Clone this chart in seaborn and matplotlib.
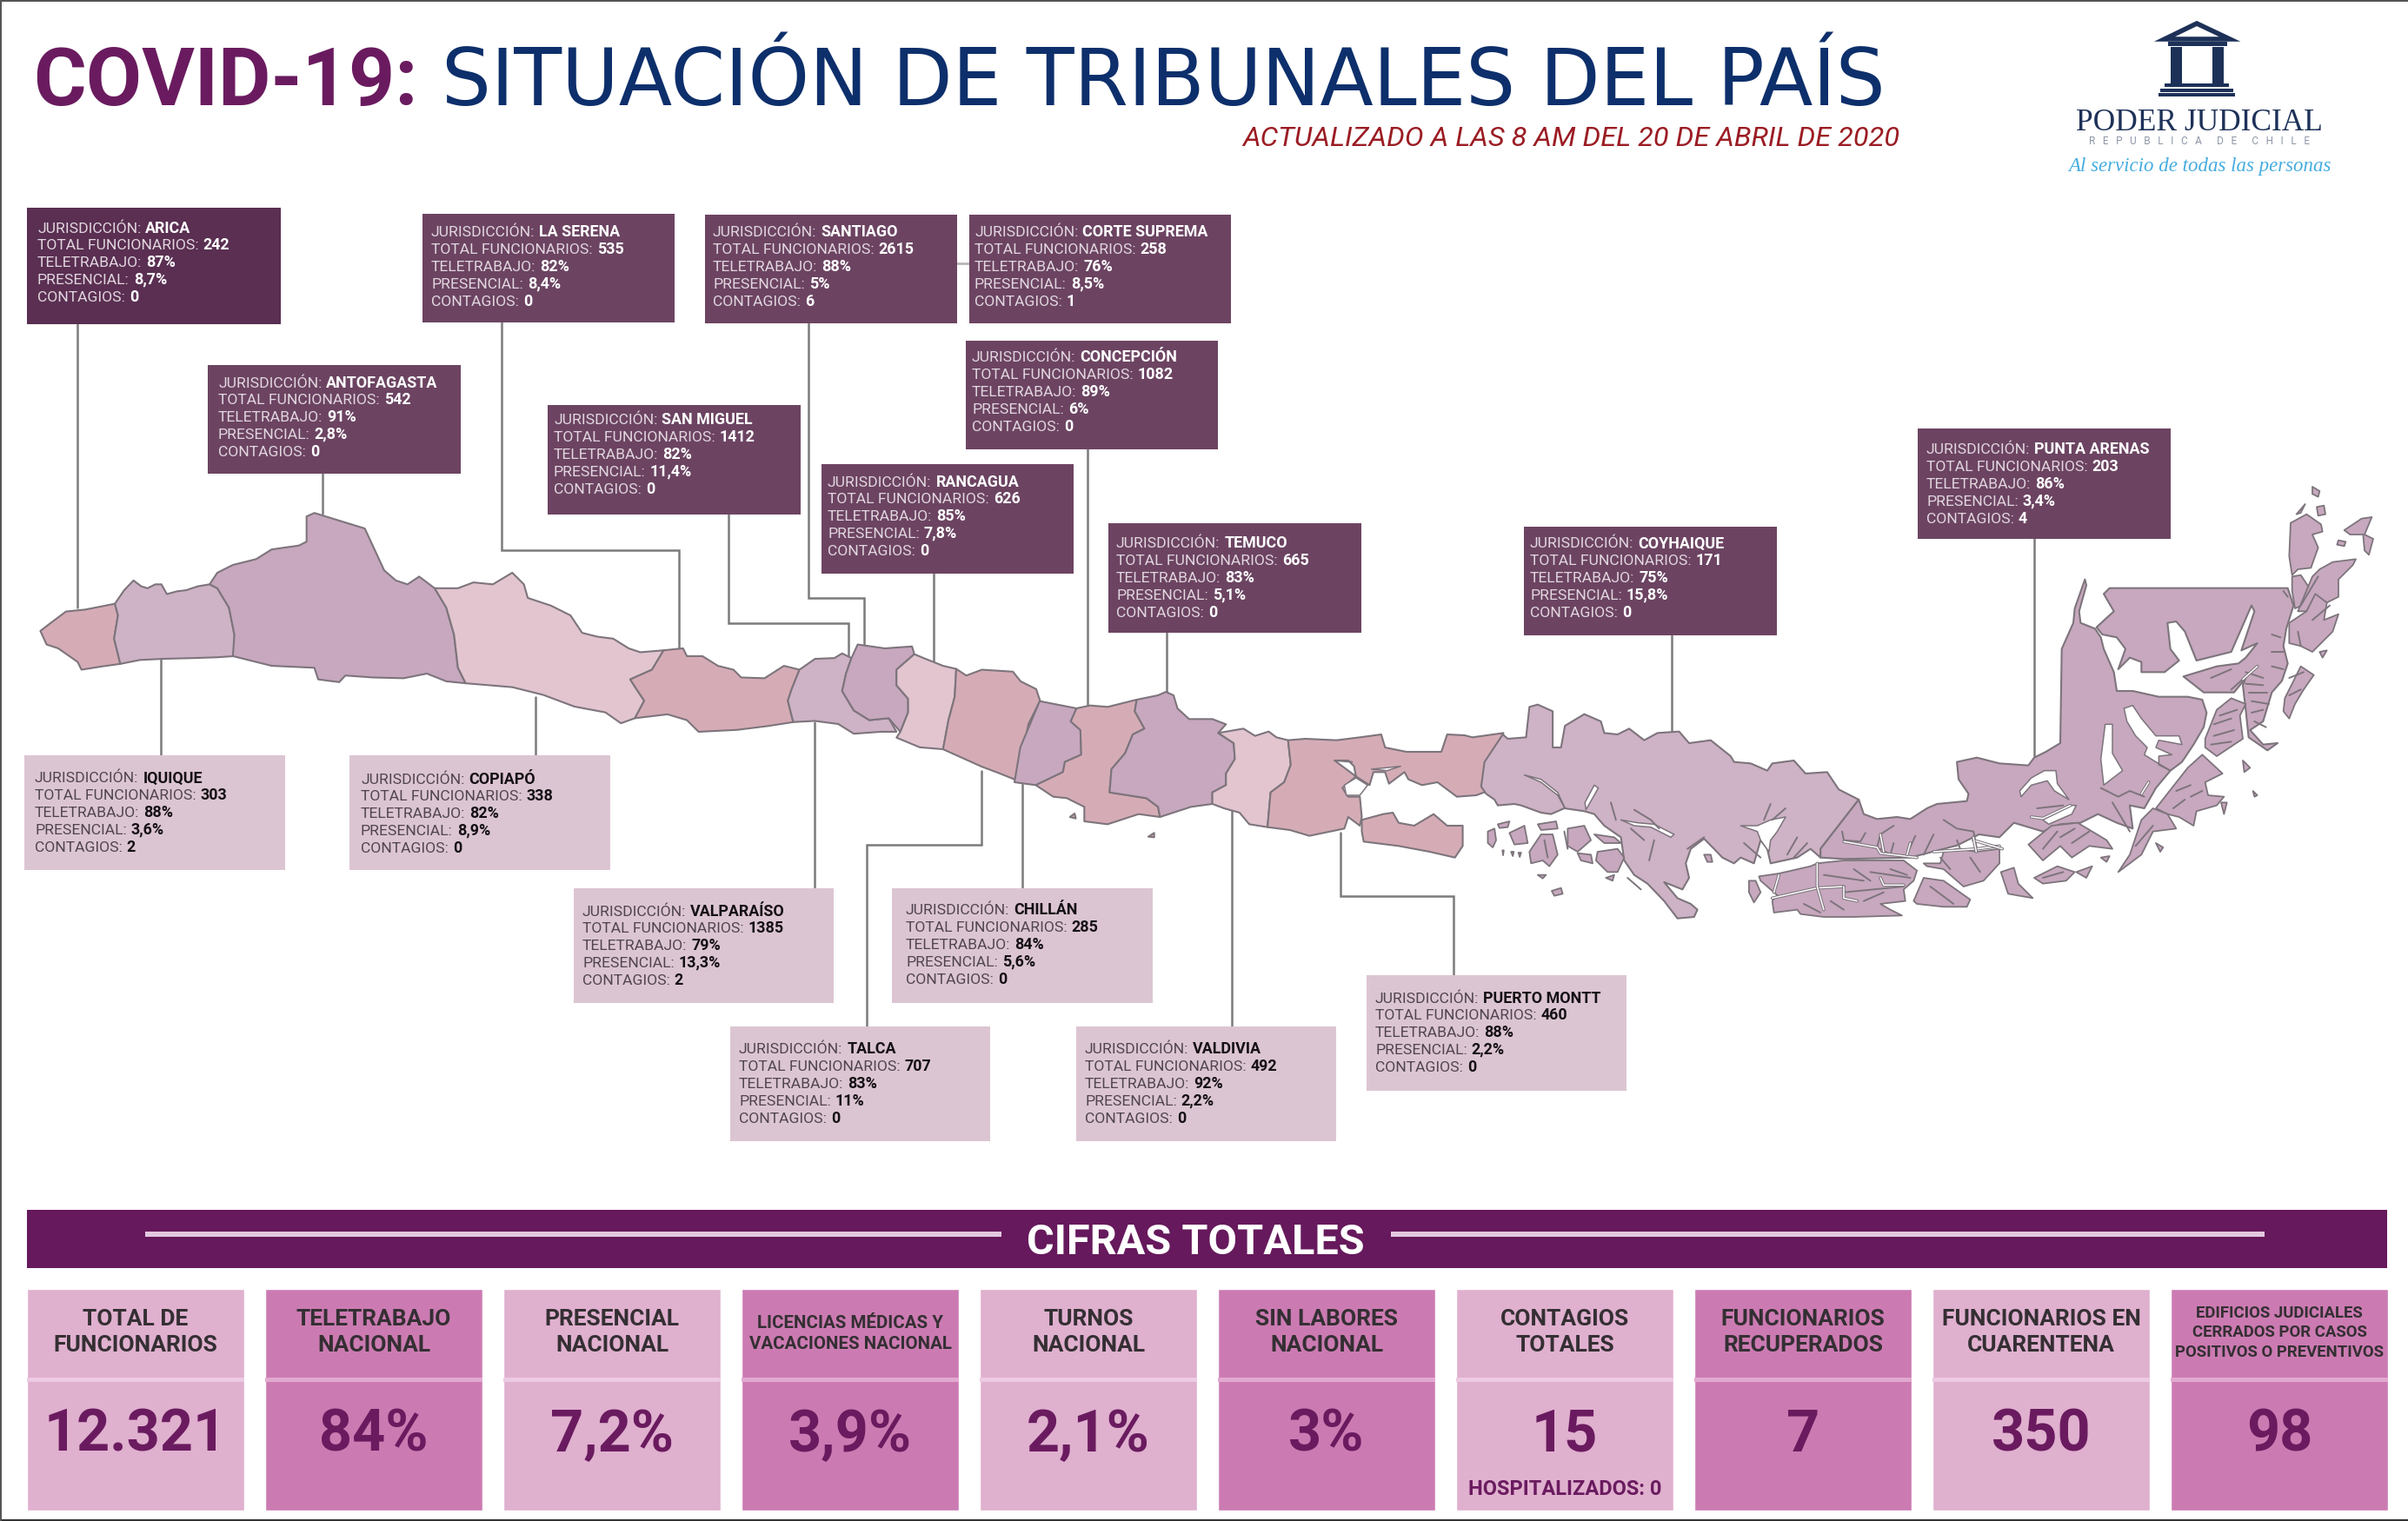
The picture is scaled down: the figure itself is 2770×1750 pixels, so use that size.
import matplotlib
matplotlib.use("Agg")
import matplotlib.pyplot as plt
from matplotlib.patches import Polygon, Rectangle
import seaborn as sns
import pandas as pd

sns.set_theme(style="white")
plt.rcParams['font.family'] = ['Roboto', 'DejaVu Sans']
WIDE = ['Roboto', 'DejaVu Sans']

# ---------------- data ----------------
JURIS = ["ARICA", "LA SERENA", "SANTIAGO", "CORTE SUPREMA", "ANTOFAGASTA", "SAN MIGUEL", "CONCEPCIÓN",
         "RANCAGUA", "TEMUCO", "COYHAIQUE", "PUNTA ARENAS", "IQUIQUE", "COPIAPÓ", "VALPARAÍSO",
         "CHILLÁN", "TALCA", "VALDIVIA", "PUERTO MONTT"]
TOTAL = ["242", "535", "2615", "258", "542", "1412", "1082", "626", "665", "171", "203", "303", "338", "1385",
         "285", "707", "492", "460"]
TELE = ["87%", "82%", "88%", "76%", "91%", "82%", "89%", "85%", "83%", "75%", "86%", "88%", "82%", "79%",
        "84%", "83%", "92%", "88%"]
PRES = ["8,7%", "8,4%", "5%", "8,5%", "2,8%", "11,4%", "6%", "7,8%", "5,1%", "15,8%", "3,4%", "3,6%", "8,9%", "13,3%",
        "5,6%", "11%", "2,2%", "2,2%"]
CONT = ["0", "0", "6", "1", "0", "0", "0", "0", "0", "0", "4", "2", "0", "2", "0", "0", "0", "0"]
ROW_LABELS = ["JURISDICCIÓN:", "TOTAL FUNCIONARIOS:", "TELETRABAJO:", "PRESENCIAL:", "CONTAGIOS:"]

TILE_HEAD = [["TOTAL DE", "FUNCIONARIOS"], ["TELETRABAJO", "NACIONAL"], ["PRESENCIAL", "NACIONAL"],
             ["LICENCIAS MÉDICAS Y", "VACACIONES NACIONAL"], ["TURNOS", "NACIONAL"], ["SIN LABORES", "NACIONAL"],
             ["CONTAGIOS", "TOTALES"], ["FUNCIONARIOS", "RECUPERADOS"], ["FUNCIONARIOS EN", "CUARENTENA"],
             ["EDIFICIOS JUDICIALES", "CERRADOS POR CASOS", "POSITIVOS O PREVENTIVOS"]]
TILE_VALUE = ["12.321", "84%", "7,2%", "3,9%", "2,1%", "3%", "15", "7", "350", "98"]

# ---------------- layout (pixels of the 2770x1750 canvas) ----------------
CARD_BOX = [(31, 239, 323, 373), (486, 246, 776, 371), (811, 247, 1101, 372), (1115, 247, 1416, 372),
            (239, 420, 530, 545), (630, 466, 921, 592), (1111, 392, 1401, 517), (945, 534, 1235, 660),
            (1275, 602, 1566, 728), (1753, 606, 2044, 731), (2206, 493, 2497, 620),
            (28, 869, 328, 1001), (402, 869, 702, 1001), (660, 1022, 959, 1154), (1026, 1022, 1326, 1154),
            (840, 1181, 1139, 1313), (1238, 1181, 1537, 1313), (1572, 1122, 1871, 1255)]
TEXT_ORIGIN = [(43, 261), (496, 266), (820, 266), (1121, 266), (251, 439), (637, 482), (1118, 410), (952, 553),
               (1284, 624), (1760, 624), (2216, 516), (40, 894), (415, 895), (670, 1047), (1042, 1046),
               (850, 1206), (1248, 1206), (1582, 1147)]
LEADERS = [[(89, 373), (89, 699)], [(371, 545), (371, 591)], [(577, 371), (577, 633), (781, 633), (781, 746)],
           [(838, 592), (838, 717), (976, 717), (976, 755)], [(930, 372), (930, 688), (994, 688), (994, 741)],
           [(1074, 660), (1074, 762)], [(1251, 517), (1251, 811)], [(1342, 728), (1342, 797)],
           [(1923, 731), (1923, 841)], [(2340, 620), (2340, 870)], [(185, 759), (185, 869)], [(616, 802), (616, 869)],
           [(937, 831), (937, 1022)], [(1129, 887), (1129, 972), (997, 972), (997, 1181)], [(1176, 902), (1176, 1022)],
           [(1417, 931), (1417, 1181)], [(1542, 958), (1542, 1031), (1672, 1031), (1672, 1122)]]

C_ROSE, C_MAUVE, C_PLUM, C_BLUSH = "#d5acb6", "#ceb2c5", "#c7a8be", "#e2c5cf"
EDGE = "#7d747c"

# traced map outlines, each in the pixel frame of one magnified view
def fa(p): return [(x / 1.12, 650 + y / 2.24) for x, y in p]
def fb(p): return [(1100 + x / 2.24, 740 + y / 3) for x, y in p]
def fc(p): return [(1700 + x / 2.613, 780 + y / 3) for x, y in p]
def fd(p): return [(2250 + x / 3, 540 + y / 3) for x, y in p]

MAP = [
 (C_ROSE, fa([(52,170),(65,150),(85,120),(110,115),(148,100),(152,130),(147,190),(155,255),(130,262),(105,270),(100,250),(75,215),(60,205)])),
 (C_MAUVE, fa([(148,100),(160,65),(172,40),(182,55),(190,60),(200,50),(208,50),(215,75),(228,68),(240,65),(255,55),(270,50),(280,60),(295,110),(302,180),(302,235),(280,238),(250,240),(210,242),(180,245),(155,255),(147,190),(152,130)])),
 (C_PLUM, fa([(270,50),(280,20),(300,0),(330,-15),(350,-40),(385,-50),(395,-60),(395,-125),(405,-134),(470,-94),(495,14),(510,40),(525,50),(540,30),(560,60),(575,110),(585,180),(590,265),(600,305),(575,300),(550,280),(520,292),(480,290),(445,285),(437,302),(410,295),(405,265),(350,260),(300,235),(302,180),(295,110),(280,60)])),
 (C_BLUSH, fa([(560,60),(590,60),(610,45),(635,50),(660,20),(675,50),(680,85),(710,105),(735,130),(750,175),(770,185),(790,190),(810,215),(825,225),(855,220),(840,270),(812,295),(820,320),(830,350),(818,395),(800,408),(780,380),(740,365),(700,335),(660,315),(600,305),(590,265),(585,180),(575,110)])),
 (C_ROSE, fa([(855,220),(880,215),(885,235),(905,235),(925,260),(945,270),(955,290),(985,292),(1010,260),(1030,270),(1020,320),(1015,350),(1022,405),(990,415),(950,425),(900,430),(885,400),(860,385),(818,395),(830,350),(820,320),(812,295),(840,270)])),
 (C_MAUVE, fa([(1030,270),(1050,242),(1075,240),(1085,228),(1097,240),(1090,280),(1085,325),(1100,375),(1120,400),(1145,395),(1155,430),(1135,430),(1100,435),(1080,410),(1050,402),(1022,405),(1015,350),(1020,320)])),
 (C_PLUM, fa([(1097,240),(1105,205),(1140,215),(1175,210),(1178,230),(1155,270),(1155,310),(1170,345),(1170,380),(1160,430),(1145,395),(1120,400),(1100,375),(1085,325),(1090,280)])),
 (C_BLUSH, fa([(1178,230),(1190,240),(1215,260),(1232,268),(1230,340),(1222,400),(1215,475),(1185,470),(1155,445),(1160,430),(1170,380),(1170,345),(1155,310),(1155,270)])),
 (C_ROSE, fa([(1232,268),(1245,285),(1265,270),(1305,275),(1315,300),(1335,320),(1340,350),(1325,410),(1310,555),(1285,535),(1265,520),(1215,475),(1222,400),(1230,340)])),
 (C_PLUM, fb([(215,200),(310,225),(295,270),(320,300),(322,385),(280,410),(275,445),(205,490),(150,480),(165,360),(190,280)])),
 (C_ROSE, fb([(310,225),(345,215),(390,220),(465,195),(460,235),(485,295),(455,315),(435,380),(400,435),(395,515),(490,535),(520,565),(525,600),(470,590),(390,625),(330,615),(330,565),(285,535),(250,530),(205,490),(275,445),(280,410),(322,385),(320,300),(295,270)])),
 (C_PLUM, fb([(465,195),(520,180),(540,168),(560,180),(570,225),(600,262),(660,262),(695,280),(675,310),(715,345),(718,400),(695,450),(695,490),(660,515),(660,555),(605,565),(525,600),(520,565),(490,535),(395,515),(400,435),(435,380),(455,315),(485,295),(460,235)])),
 (C_BLUSH, fb([(675,310),(740,295),(770,320),(805,305),(825,325),(855,335),(862,420),(845,480),(810,515),(802,635),(755,625),(730,585),(690,570),(660,555),(660,515),(695,490),(695,450),(718,400),(715,345)])),
 (C_ROSE, fb([(855,335),(900,330),(980,335),(1040,325),(1095,315),(1105,360),(1160,375),(1250,375),(1265,315),(1310,318),(1330,325),(1410,310),(1395,380),(1365,410),(1355,480),(1370,510),(1340,525),(1290,530),(1240,480),(1200,490),(1165,470),(1155,445),(1115,485),(1105,445),(1075,445),(1065,490),(1030,460),(1025,425),(1010,405),(975,405),(1030,460),(995,500),(1010,530),(1040,530),(1045,600),(1040,630),(1010,600),(1000,640),(910,665),(860,645),(802,635),(810,515),(845,480),(862,420)])),
 (C_ROSE, fb([(1045,610),(1100,590),(1125,585),(1140,620),(1180,630),(1230,590),(1265,630),(1305,630),(1305,700),(1285,740),(1220,720),(1140,700),(1050,685),(1045,650)])),
 (C_ROSE, fb([(293,600),(305,588),(308,605)])),
 (C_ROSE, fb([(495,668),(510,655),(510,670)])),
 (C_MAUVE, fc([(75,195),(90,210),(145,205),(155,100),(180,92),(225,115),(225,240),(250,240),(262,165),(320,125),(370,150),(380,190),(420,195),(455,175),(500,215),(540,190),(605,185),(635,225),(700,215),(760,270),(770,290),(820,295),(870,320),(885,295),(950,285),(985,330),(1050,325),(1085,385),(1145,420),(1030,590),(1030,620),(1000,590),(960,620),(880,640),(870,590),(850,560),(830,640),(790,620),(770,640),(735,620),(710,590),(680,555),(640,590),(625,640),(635,690),(615,730),(560,705),(600,760),(640,780),(660,800),(650,825),(600,830),(560,770),(510,710),(470,680),(440,630),(430,550),(380,510),(350,470),(320,460),(260,450),(220,470),(190,465),(130,440),(110,435),(60,440),(50,420),(25,400),(10,375),(20,290)])),
 (C_PLUM, fc([(1145,420),(1160,470),(1200,487),(1260,480),(1300,487),(1350,450),(1380,435),(1470,425),(1475,400),(1445,350),(1440,290),(1500,275),(1568,295)])
  + fd([(250,1022),(270,995),(310,975),(360,945),(365,620),(405,530),(410,480),(445,380),(450,400),(425,490),(430,530),(480,550),(500,580),(510,620),(545,700),(555,765),(610,765),(700,785),(800,785),(850,795),(865,840),(855,890),(820,950),(780,1010),(740,1040),(690,1100),(650,1170),(600,1160),(610,1240),(555,1220),(490,1190),(430,1220),(360,1225),(300,1250),(200,1220),(150,1270),(80,1260),(0,1300)])
  + fc([(1437,579),(1300,620),(1100,625),(1030,620),(1030,590)])),
 (C_PLUM, fd([(510,430),(530,410),(1145,410),(1165,470),(1140,550),(1130,610),(1145,670),(1125,730),(1090,770),(1060,870),(1015,900),(1060,950),(1110,945),(1075,970),(1010,925),(1000,830),(990,745),(1000,720),(960,770),(855,770),(785,715),(900,680),(975,670),(1000,650),(1040,600),(985,625),(1030,490),(1020,470),(950,630),(830,660),(790,560),(760,525),(730,530),(740,620),(770,660),(720,700),(640,700),(640,665),(600,650),(560,690),(585,620),(555,580),(505,570),(485,545),(545,490)])),
]
ISLANDS = [
 fc([(845,685),(905,675),(1000,650),(1020,640),(1100,630),(1190,630),(1280,630),(1320,665),(1310,700),(1280,730),(1285,770),(1210,780),(1240,800),(1275,820),(1130,825),(1040,825),(970,815),(960,800),(890,810),(885,770),(900,750),(850,700)]),
 fc([(1340,690),(1400,700),(1480,765),(1470,790),(1400,790),(1320,780),(1310,770)]),
 fc([(1340,640),(1390,640),(1400,600),(1440,590),(1500,600),(1568,590),(1568,640),(1520,700),(1460,720),(1400,660),(1350,650)]),
 fc([(815,700),(835,700),(850,740),(830,775),(815,740)]),
 fc([(30,530),(50,520),(55,560),(45,585),(30,570)]), fc([(95,535),(140,510),(150,570),(110,575)]),
 fc([(180,505),(235,495),(240,520),(190,525)]), fc([(270,520),(320,510),(340,560),(300,600),(270,580)]),
 fc([(190,540),(225,540),(240,610),(215,650),(195,630),(160,640),(155,600)]), fc([(350,540),(410,550),(430,570),(380,570)]),
 fc([(360,600),(420,590),(440,620),(420,670),(390,670),(355,630)]), fc([(300,605),(340,610),(345,640),(310,630)]),
 fc([(222,735),(250,725),(255,745),(230,752)]), fc([(180,680),(205,680),(195,692)]), fc([(385,690),(410,680),(405,700)]),
 fc([(680,610),(700,610),(705,635),(690,635)]), fc([(60,505),(95,495),(90,515),(65,518)]),
 fc([(100,600),(108,600),(105,615)]), fc([(122,603),(130,603),(126,618)]), fc([(74,595),(78,595),(76,612)]),
 fd([(1155,185),(1210,155),(1260,190),(1265,215),(1230,225),(1250,270),(1225,340),(1180,345),(1160,365),(1150,300)]),
 fd([(1230,60),(1255,75),(1250,95),(1230,85)]), fd([(1245,130),(1270,125),(1275,155),(1250,160)]),
 fd([(1175,155),(1205,120),(1190,150)]), fd([(1160,370),(1190,365),(1220,410),(1195,470),(1170,480),(1160,420)]),
 fd([(1230,370),(1255,345),(1300,320),(1380,310),(1370,330),(1320,380),(1320,440),(1270,465),(1240,440),(1210,490),(1180,490)]),
 fd([(1150,530),(1210,490),(1240,430),(1280,460),(1270,520),(1320,500),(1300,560),(1260,600),(1230,630),(1190,610),(1150,600)]),
 fd([(1340,210),(1400,170),(1435,165),(1410,225),(1440,240),(1425,295),(1410,280),(1405,225),(1360,225)]),
 fd([(1320,245),(1345,250),(1340,265),(1315,260)]), fd([(1255,630),(1280,625),(1265,650)]),
 fd([(1135,790),(1190,680),(1235,710),(1200,760),(1170,810),(1150,860),(1130,835)]),
 fd([(860,930),(900,830),(950,790),(1000,810),(980,850),(990,930),(900,990),(860,960)]),
 fd([(800,1030),(850,985),(920,1050),(860,1080),(870,1125),(925,1130),(900,1160),(830,1180),(820,1230),(770,1200),(730,1190),(690,1170)]),
 fd([(560,1390),(600,1330),(640,1210),(680,1170),(730,1190),(760,1240),(680,1250),(640,1330),(600,1360)]),
 fd([(990,1005),(1015,1030),(995,1045)]), fd([(915,1150),(935,1150),(925,1190)]), fd([(1025,1110),(1040,1125),(1030,1130)]),
 fd([(690,1290),(715,1305),(705,1320)]),
 fd([(250,1295),(330,1230),(420,1220),(470,1250),(520,1280),(540,1310),(460,1300),(400,1340),(360,1300),(300,1350)]),
 fd([(270,1410),(350,1370),(410,1390),(380,1420),(300,1430)]), fd([(415,1390),(470,1370),(450,1410)]),
 fd([(155,1390),(200,1375),(215,1430),(265,1480),(180,1465)]), fd([(500,1340),(530,1335),(520,1355)]),
]
LAKES = [
 fb([(1000,490),(1030,465),(1060,490),(1040,525),(1005,525)]),
 fb([(1070,435),(1145,425),(1110,440)]),
 fc([(790,510),(840,510),(880,490),(925,480),(900,530),(880,560),(875,600),(850,560),(840,530)]),
 fc([(140,335),(190,350),(240,395),(262,450),(240,405),(190,360)]),
 fc([(350,370),(362,380),(340,425),(325,455),(322,430)]),
 fc([(430,490),(480,500),(530,505),(590,540),(580,550),(520,515),(470,510)]),
 fd([(580,825),(610,815),(640,860),(690,920),(770,920),(780,950),(700,935),(690,960),(745,985),(700,990),(700,1020),(740,1040),(690,1010),(650,985),(660,960),(620,920),(590,870)]),
 fd([(515,880),(540,880),(540,980),(575,1040),(510,1090),(500,1000)]),
 fd([(305,1040),(345,1040),(350,1085),(390,1140),(340,1110),(315,1075),(260,1090),(225,1130),(220,1110),(260,1065)]),
 fd([(300,1210),(400,1160),(415,1160),(400,1190),(320,1225)]),
]
FJORDS = [
 fc([(1095,530),(1100,560),(1150,565),(1165,535)]), fc([(1100,565),(1200,585),(1210,540),(1250,510)]),
 fc([(1210,590),(1240,610),(1250,570)]), fc([(1290,610),(1315,545)]), fc([(1340,610),(1370,540)]),
 fc([(1400,490),(1440,520),(1490,530),(1500,590)]), fc([(470,455),(520,490),(545,520)]), fc([(400,430),(415,490)]),
 fc([(630,590),(680,550)]), fc([(880,435),(860,490)]), fc([(925,450),(885,490)]),
 fc([(800,570),(850,620)]), fc([(960,550),(930,610)]), fc([(990,570),(950,620)]), fc([(530,560),(515,630)]),
 fc([(450,690),(490,730)]), fc([(460,520),(500,560)]), fc([(1040,680),(1160,700)]), fc([(1100,740),(1280,720)]),
 fc([(1180,670),(1300,690)]), fc([(980,780),(1030,810)]), fc([(1360,720),(1430,780)]),
 fc([(1130,660),(1180,700)]), fc([(1240,660),(1290,680)]), fc([(1060,770),(1100,800)]), fc([(1160,770),(1220,740)]),
 fc([(1390,620),(1420,660)]), fc([(1480,620),(1510,670)]), fc([(1440,560),(1450,590)]), fc([(260,530),(270,590)]), fc([(200,560),(210,620)]),
 fd([(280,1170),(370,1160)]), fd([(500,1100),(560,1130),(600,1110),(650,1130)]), fd([(540,1150),(600,1250)]),
 fd([(1000,700),(1060,720)]), fd([(1090,570),(1120,580)]), fd([(1090,630),(1130,630)]), fd([(1090,680),(1130,690)]),
 fd([(1020,800),(1080,810)]), fd([(1030,870),(1070,890)]), fd([(910,850),(970,830)]), fd([(890,920),(960,900)]),
 fd([(760,1110),(810,1090)]), fd([(750,1170),(790,1140)]), fd([(1190,470),(1250,370)]), fd([(1230,520),(1290,470)]),
 fd([(1180,560),(1190,610)]), fd([(880,720),(950,690)]), fd([(950,760),(1040,680)]), fd([(360,1270),(410,1240)]),
 fd([(1000,740),(1060,745)]), fd([(1010,770),(1075,770)]), fd([(1020,840),(1060,830)]), fd([(890,880),(950,860)]),
 fd([(880,950),(950,940)]), fd([(1150,720),(1200,700)]), fd([(1150,780),(1190,760)]), fd([(810,1130),(850,1110)]),
 fd([(620,1300),(680,1230)]), fd([(300,1310),(350,1250)]), fd([(400,1290),(460,1250)]), fd([(300,1410),(370,1390)]),
 fb([(975,405),(1020,410)]), fd([(1130,420),(1145,440)]),
]
# thin white channels that split the southern land
CHANNELS = [
 fc([(885,760),(1020,725),(1100,720)]), fc([(1020,640),(1020,720),(1040,800)]),
 fc([(1100,565),(1200,585),(1210,605),(1320,620)]), fc([(1370,600),(1500,590),(1568,580)]),
 fc([(905,680),(890,740)]), fc([(1100,720),(1100,760),(1140,770)]), fc([(1210,690),(1220,715),(1280,715)]),
 fc([(1210,540),(1220,600)]), fc([(1300,570),(1290,610)]),
 fd([(395,1160),(300,1205),(260,1200)]), fd([(60,1280),(160,1310)]), fd([(60,1270),(70,1320)]),
 fd([(640,1120),(665,1080)]), fd([(990,725),(1040,680)]),
]

# ---------------- figure ----------------
fig = plt.figure(figsize=(27.7, 17.5), dpi=100, facecolor="white")
ax_t = fig.add_axes([19 / 2770, 1 - 1738 / 1750, 2740 / 2770, 255 / 1750])
ax = fig.add_axes([0, 0, 1, 1], zorder=2)
ax.set_xlim(0, 2770); ax.set_ylim(1750, 0); ax.axis("off"); ax.patch.set_visible(False)
rend = fig.canvas.get_renderer()

# summary tiles, as one bar per indicator
tiles = pd.DataFrame({"indicador": TILE_VALUE, "alto": [1] * len(TILE_VALUE)})
TILE_COL = ["#e0b0cf", "#cc7bb2"] * 5
sns.barplot(data=tiles, x="indicador", y="alto", hue="indicador", palette=TILE_COL, width=0.912,
            legend=False, saturation=1, ax=ax_t, dodge=False)
ax_t.set_xlim(-0.5, 9.5); ax_t.set_ylim(0, 1); ax_t.axis("off")

def rich(x, y, a, b, size, ca, cb, gap=5):
    t = ax.text(x, y, a, fontsize=size, color=ca, family=WIDE, va="baseline", ha="left", zorder=6)
    w = t.get_window_extent(rend).width
    ax.text(x + w + gap, y, b, fontsize=size + 0.3, color=cb, family=WIDE, fontweight="bold", va="baseline", ha="left", zorder=6)

# frame
ax.add_patch(Rectangle((0, 1748), 2770, 2, color="#333333", lw=0))
ax.add_patch(Rectangle((0, 0), 2770, 1.5, color="#555555", lw=0))
ax.add_patch(Rectangle((0, 0), 1.5, 1750, color="#555555", lw=0))

# title
ax.text(38, 121, "COVID-19:", fontsize=67, fontweight="bold", color="#6a1b5f", family=WIDE, va="baseline")
ax.text(508, 121, "SITUACIÓN DE TRIBUNALES DEL PAÍS", fontsize=64.6, color="#0d2f6b", family=["DejaVu Sans"], va="baseline")
ax.text(1429, 168, "ACTUALIZADO A LAS 8 AM DEL 20 DE ABRIL DE 2020", fontsize=23.4, style="italic",
        color="#9b1c23", family=WIDE, va="baseline")

# logo
NAVY = "#1d3158"
ax.add_patch(Polygon([(2527, 27), (2565, 45), (2490, 45)], closed=True, fc="white", ec=NAVY, lw=4))
for xa, xb in [(2497, 2510), (2545, 2558)]:
    ax.add_patch(Rectangle((xa, 54), xb - xa, 42, fc=NAVY, lw=0))
ax.add_patch(Rectangle((2494, 48), 68, 5, fc=NAVY, lw=0))
for ya, xa, xb in [(96, 2490, 2564), (102, 2485, 2569), (107, 2483, 2571)]:
    ax.add_patch(Rectangle((xa, ya), xb - xa, 3.5, fc=NAVY, lw=0))
ax.text(2530, 150, "PODER JUDICIAL", fontsize=25.5, family="Liberation Serif", color=NAVY, ha="center", va="baseline")
ax.text(2530, 166, "R   E   P   U   B   L   I   C   A      D   E      C   H   I   L   E", fontsize=8.5, family=WIDE, color="#8d95a6", ha="center", va="baseline")
ax.text(2530, 197, "Al servicio de todas las personas", fontsize=16.5, family="Liberation Serif", style="italic",
        color="#45ace0", ha="center", va="baseline")

# map
for col, pts in MAP:
    ax.add_patch(Polygon(pts, closed=True, fc=col, ec=EDGE, lw=1.5, joinstyle="round", zorder=2))
for pts in ISLANDS:
    ax.add_patch(Polygon(pts, closed=True, fc=C_PLUM, ec=EDGE, lw=1.3, joinstyle="round", zorder=2))
for pts in LAKES:
    ax.add_patch(Polygon(pts, closed=True, fc="white", ec=EDGE, lw=1.1, joinstyle="round", zorder=3))
for pts in FJORDS:
    ax.plot([p[0] for p in pts], [p[1] for p in pts], color=EDGE, lw=1.4, zorder=3, solid_capstyle="round")
for pts in CHANNELS:
    ax.plot([p[0] for p in pts], [p[1] for p in pts], color=EDGE, lw=2.6, zorder=3)
    ax.plot([p[0] for p in pts], [p[1] for p in pts], color="white", lw=1.1, zorder=3)

# leaders
for pts in LEADERS:
    ax.plot([p[0] for p in pts], [p[1] for p in pts], color="#7c7a7c", lw=1.8, zorder=1, solid_joinstyle="miter")
ax.plot([1101, 1115], [303, 303], color="#b9b4b8", lw=2, zorder=1)

# cards
for i, name in enumerate(JURIS):
    x0, y0, x1, y1 = CARD_BOX[i]
    tx, ty = TEXT_ORIGIN[i]
    light = i >= 11
    col = "#dcc5d2" if light else ("#5a2f52" if i == 0 else "#6c4462")
    ax.add_patch(Rectangle((x0, y0), x1 - x0, y1 - y0, fc=col, lw=0, zorder=4))
    ca, cb = ("#4f4450", "#141014") if light else ("#e2d7df", "#ffffff")
    vals = [name, TOTAL[i], TELE[i], PRES[i], CONT[i]]
    for k, (lab, v) in enumerate(zip(ROW_LABELS, vals)):
        rich(tx, ty + 6.5 + k * 19.8, lab, v, 12.6, ca, cb)

# banner
ax.add_patch(Rectangle((31, 1392), 2715, 67, fc="#66195c", lw=0))
ax.add_patch(Rectangle((167, 1417), 985, 6, fc="#e4c8df", lw=0))
ax.add_patch(Rectangle((1600, 1417), 1005, 6, fc="#e4c8df", lw=0))
ax.text(1375, 1443, "CIFRAS TOTALES", fontsize=35, fontweight="bold", color="white", family=WIDE, ha="center", va="baseline")

# tile contents
TXT = "#342f33"
for i, (head, val) in enumerate(zip(TILE_HEAD, TILE_VALUE)):
    cx = 156 + i * 274
    ax.add_patch(Rectangle((cx - 125, 1585), 250, 5, fc="#eccbe3" if i % 2 == 0 else "#e2a9d0", lw=0))
    if len(head) == 3:
        for ln, yy in zip(head, [1511, 1533, 1556]):
            ax.text(cx, yy, ln, fontsize=13.4, fontweight="bold", color=TXT, family=WIDE, ha="center", va="center")
    elif i == 3:
        for ln, yy in zip(head, [1522, 1546]):
            ax.text(cx, yy, ln, fontsize=14.8, fontweight="bold", color=TXT, family=WIDE, ha="center", va="center")
    else:
        for ln, yy in zip(head, [1518, 1548]):
            ax.text(cx, yy, ln, fontsize=19, fontweight="bold", color=TXT, family=WIDE, ha="center", va="center")
    ax.text(cx, 1670, val, fontsize=48, fontweight="bold", color="#6a1b5f", family=WIDE, ha="center", va="baseline")
ax.text(156 + 6 * 274, 1714, "HOSPITALIZADOS: 0", fontsize=17, fontweight="bold", color="#6a1b5f", family=WIDE, ha="center", va="center")

fig.savefig("out.png", dpi=100, facecolor="white")
